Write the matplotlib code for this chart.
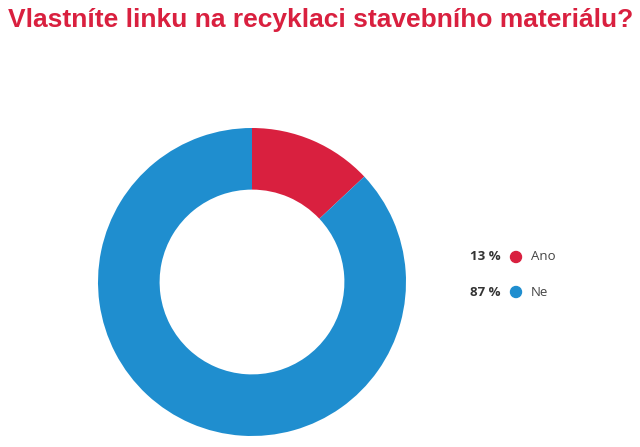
import matplotlib.pyplot as plt
from matplotlib.patches import Ellipse

labels = ["Ano", "Ne"]
shares = [13, 87]
colors = ["#D9203F", "#1F8ECF"]
title = "Vlastníte linku na recyklaci stavebního materiálu?"

W, H = 640, 447
fig = plt.figure(figsize=(W / 100, H / 100), dpi=100)

# donut axes placed in pixel coords
cx, cy, r = 252, 282, 154
ax = fig.add_axes([(cx - r) / W, (H - cy - r) / H, 2 * r / W, 2 * r / H])
ax.pie(shares, colors=colors, startangle=90, counterclock=False,
       wedgeprops=dict(width=0.4, edgecolor="none"))
ax.set_xlim(-1, 1)
ax.set_ylim(-1, 1)
ax.set_aspect("equal")

fig.text(8 / W, 1 - 20 / H, title, color="#D9203F", fontsize=19,
         fontweight="bold", family="Liberation Sans", va="center", ha="left")

# legend
leg_y = [257, 292]
for lab, val, col, y in zip(labels, shares, colors, leg_y):
    yy = 1 - y / H
    fig.text(501 / W, yy, f"{val} %", ha="right", va="center", fontsize=9.5,
             fontweight="bold", color="#333333", family="Open Sans")
    fig.add_artist(Ellipse((516 / W, yy), 11 / W, 11 / H, transform=fig.transFigure,
                           color=col))
    fig.text(531 / W, yy, lab, ha="left", va="center", fontsize=9.5,
             color="#444444", family="Open Sans")

fig.savefig("out.png", dpi=100)
